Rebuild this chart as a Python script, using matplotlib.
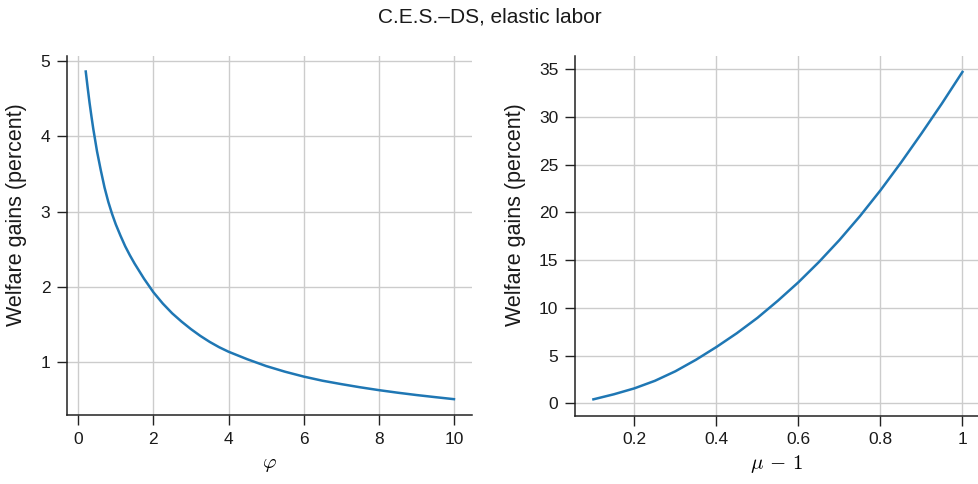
import matplotlib
matplotlib.use("Agg")
import matplotlib.pyplot as plt

plt.rcParams['font.family'] = ['Liberation Sans', 'DejaVu Sans']
plt.rcParams['mathtext.fontset'] = 'cm'

# Left panel: welfare gains vs phi
phi = [0.2, 0.25, 0.3, 0.35, 0.4, 0.5, 0.6, 0.7, 0.8, 0.9, 1.0, 1.125, 1.25,
       1.375, 1.5, 1.625, 1.75, 1.875, 2.0, 2.25, 2.5, 2.75, 3.0, 3.25, 3.5,
       3.75, 4.0, 4.5, 5.0, 5.5, 6.0, 6.5, 7.0, 7.5, 8.0, 8.5, 9.0, 9.5, 10.0]
gains_phi = [4.86, 4.65, 4.45, 4.27, 4.10, 3.80, 3.55, 3.32, 3.13, 2.97, 2.83,
             2.68, 2.54, 2.42, 2.31, 2.21, 2.11, 2.02, 1.93, 1.78, 1.65, 1.54,
             1.44, 1.35, 1.27, 1.20, 1.14, 1.04, 0.95, 0.875, 0.81, 0.755,
             0.71, 0.668, 0.63, 0.596, 0.565, 0.537, 0.51]

# Right panel: welfare gains vs mu - 1
mu1 = [0.1, 0.15, 0.2, 0.25, 0.3, 0.35, 0.4, 0.45, 0.5, 0.55, 0.6, 0.65, 0.7,
       0.75, 0.8, 0.85, 0.9, 0.95, 1.0]
gains_mu = [0.42, 0.95, 1.57, 2.36, 3.36, 4.56, 5.90, 7.35, 8.95, 10.75, 12.68,
            14.80, 17.10, 19.60, 22.30, 25.20, 28.25, 31.40, 34.70]

left_xticks = [0, 2, 4, 6, 8, 10]
left_yticks = [1, 2, 3, 4, 5]
right_xticks = [0.2, 0.4, 0.6, 0.8, 1.0]
right_xticklabels = ["0.2", "0.4", "0.6", "0.8", "1"]
right_yticks = [0, 5, 10, 15, 20, 25, 30, 35]

title = "C.E.S.\u2013DS, elastic labor"
ylabel = "Welfare gains (percent)"

line_color = "#1f77b4"
grid_color = "#cccccc"
text_color = "#1a1a1a"

fig = plt.figure(figsize=(9.79, 4.84), dpi=100)
ax1 = fig.add_axes([0.0684, 0.1426, 0.4137, 0.7423])
ax2 = fig.add_axes([0.5873, 0.1410, 0.4117, 0.7439])

for ax in (ax1, ax2):
    for s in ("top", "right"):
        ax.spines[s].set_visible(False)
    for s in ("left", "bottom"):
        ax.spines[s].set_linewidth(1.1)
        ax.spines[s].set_color("#222222")
    ax.grid(True, color=grid_color, linewidth=1.0)
    ax.set_axisbelow(True)
    ax.tick_params(direction="out", length=7, width=1.0, labelsize=12.5,
                   colors="#222222", labelcolor=text_color, pad=5)

ax1.plot(phi, gains_phi, color=line_color, linewidth=1.8)
ax1.set_xlim(-0.3, 10.48)
ax1.set_ylim(0.30, 5.07)
ax1.set_xticks(left_xticks)
ax1.set_yticks(left_yticks)
ax1.set_xlabel(r"$\varphi$", fontsize=15, labelpad=6)
ax1.set_ylabel(ylabel, fontsize=15.5, color=text_color)
ax1.yaxis.set_label_coords(-0.099, 0.559)

ax2.plot(mu1, gains_mu, color=line_color, linewidth=1.8)
ax2.set_xlim(0.055, 1.038)
ax2.set_ylim(-1.3, 36.4)
ax2.set_xticks(right_xticks)
ax2.set_xticklabels(right_xticklabels)
ax2.set_yticks(right_yticks)
ax2.set_xlabel(r"$\mu\,-\,1$", fontsize=15, labelpad=4)
ax2.set_ylabel(ylabel, fontsize=15.5, color=text_color)
ax2.yaxis.set_label_coords(-0.122, 0.559)

fig.text(0.5, 0.965, title, ha="center", va="center", fontsize=15,
         color=text_color)

fig.savefig("out.png", dpi=100)
